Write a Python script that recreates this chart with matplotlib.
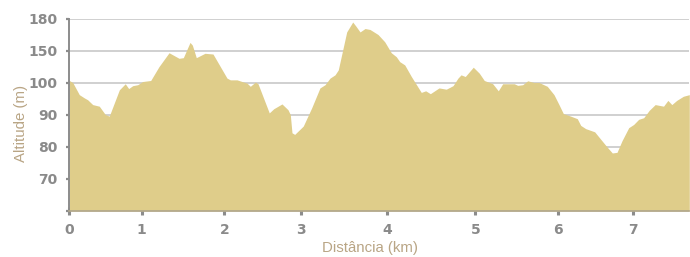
import numpy as np
import matplotlib
matplotlib.use("Agg")
import matplotlib.pyplot as plt
from matplotlib import font_manager

# ---- data ----
distance_km = [0.0, 0.047, 0.138, 0.207, 0.254, 0.323, 0.414, 0.497, 0.552, 0.691,
               0.773, 0.820, 0.876, 0.945, 1.012, 1.109, 1.209, 1.331, 1.452, 1.504,
               1.585, 1.613, 1.661, 1.766, 1.863, 2.035, 2.078, 2.165, 2.230, 2.295,
               2.338, 2.403, 2.438, 2.584, 2.642, 2.749, 2.827, 2.857, 2.879, 2.914,
               2.983, 3.023, 3.121, 3.217, 3.276, 3.334, 3.392, 3.430, 3.528, 3.598,
               3.636, 3.683, 3.741, 3.799, 3.892, 3.970, 4.045, 4.102, 4.141, 4.198,
               4.273, 4.386, 4.436, 4.489, 4.588, 4.670, 4.747, 4.803, 4.838, 4.886,
               4.977, 5.048, 5.108, 5.210, 5.277, 5.330, 5.470, 5.511, 5.571, 5.631,
               5.707, 5.767, 5.867, 5.948, 6.009, 6.067, 6.165, 6.253, 6.299, 6.365,
               6.485, 6.565, 6.653, 6.720, 6.783, 6.849, 6.939, 7.005, 7.072, 7.139,
               7.213, 7.293, 7.405, 7.463, 7.516, 7.581, 7.671, 7.750]
altitude_m = [103.6, 100.5, 96.3, 95.3, 94.7, 93.2, 92.7, 90.1, 89.6, 97.8,
              99.7, 98.2, 99.1, 99.4, 102.0, 103.6, 125.2, 146.9, 138.2, 139.2,
              157.8, 155.3, 139.2, 146.0, 144.9, 107.3, 104.6, 104.6, 102.0, 99.9,
              98.9, 101.1, 99.7, 90.6, 91.9, 93.4, 91.6, 90.1, 84.4, 83.9,
              85.5, 86.5, 92.2, 98.4, 99.4, 107.3, 112.4, 120.1, 167.6, 176.9,
              172.9, 167.6, 170.8, 169.9, 165.2, 158.4, 146.9, 140.7, 133.0, 127.9,
              109.8, 97.0, 97.5, 96.6, 98.4, 98.0, 99.1, 107.3, 112.4, 109.8,
              124.3, 115.0, 103.6, 99.7, 97.5, 99.7, 99.7, 99.2, 99.4, 103.1,
              100.5, 100.5, 98.9, 96.3, 93.2, 90.4, 89.6, 88.8, 86.7, 85.7,
              84.7, 82.4, 79.9, 78.1, 78.3, 81.9, 86.0, 87.0, 88.6, 89.1,
              91.4, 93.2, 92.7, 94.5, 93.2, 94.5, 95.8, 96.3]

x_ticks = [0, 1, 2, 3, 4, 5, 6, 7]
x_tick_labels = ["0", "1", "2", "3", "4", "5", "6", "7"]
y_ticks = [60, 70, 80, 90, 100, 150, 180]
y_tick_labels = ["", "70", "80", "90", "100", "150", "180"]

# ---- uneven axis scales (piecewise linear) ----
_xk = [-100, 0, 1, 2, 3, 4, 5, 6, 7, 7.75, 100]
_xp = [-7240, 0, 72.4, 155.0, 232.0, 318.0, 406.0, 489.0, 564.0, 620.0, 7000.0]
_yk = [-1000, 60, 70, 80, 90, 100, 150, 180, 1000]
_yp = [-106.0, 0, 1, 2, 3, 4, 5, 6, 6 + 820 / 30]

def xf(v): return np.interp(v, _xk, _xp)
def xi(p): return np.interp(p, _xp, _xk)
def yf(v): return np.interp(v, _yk, _yp)
def yi(p): return np.interp(p, _yp, _yk)

# ---- fonts ----
names = {f.name for f in font_manager.fontManager.ttflist}
tick_font = "Liberation Sans Narrow" if "Liberation Sans Narrow" in names else "DejaVu Sans"
label_font = "Liberation Sans" if "Liberation Sans" in names else "DejaVu Sans"

FILL = "#DFCD8A"
GRID = "#c4c4c4"
AXIS = "#8c8c8c"
TICKTXT = "#8a8a8a"
LABEL = "#b9a585"

fig = plt.figure(figsize=(6.9, 2.57), dpi=100)
ax = fig.add_axes([69.3 / 690, 1 - 211 / 257, 620 / 690, (211 - 18.7) / 257])
ax.set_xscale("function", functions=(xf, xi))
ax.set_yscale("function", functions=(yf, yi))

ax.fill_between(distance_km, altitude_m, 60, color=FILL, lw=0, zorder=2)
ax.set_xlim(0, 7.75)
ax.set_ylim(60, 180)

ax.set_yticks(y_ticks)
ax.set_yticklabels(y_tick_labels)
ax.set_xticks(x_ticks)
ax.set_xticklabels(x_tick_labels)
ax.minorticks_off()

ax.yaxis.grid(True, color=GRID, lw=1.1)
ax.set_axisbelow(True)

for s in ["top", "right"]:
    ax.spines[s].set_visible(False)
ax.spines["left"].set_color(AXIS)
ax.spines["left"].set_linewidth(1.4)
ax.spines["left"].set_zorder(3)
ax.spines["bottom"].set_color("#b0a68c")
ax.spines["bottom"].set_linewidth(1.2)
ax.spines["bottom"].set_zorder(3)

ax.tick_params(axis="y", direction="out", length=2.4, width=1.6, color=AXIS,
               pad=6.0, labelsize=10, labelcolor=TICKTXT)
ax.tick_params(axis="x", direction="inout", length=5.8, width=2.2, color=AXIS,
               pad=5.5, labelsize=10, labelcolor=TICKTXT)
for lab in ax.get_xticklabels() + ax.get_yticklabels():
    lab.set_fontfamily(tick_font)
    lab.set_fontweight("bold")

ax.set_xlabel("Distância (km)", fontsize=10.8, color=LABEL, family=label_font)
ax.set_ylabel("Altitude (m)", fontsize=10.8, color=LABEL, family=label_font)
ax.xaxis.set_label_coords((369.5 - 69.3) / 620, (211 - 248) / 192.3)
ax.yaxis.set_label_coords((21 - 69.3) / 620, (211 - 123) / 192.3)
ax.xaxis.label.set_va("center")
ax.yaxis.label.set_va("center")

fig.savefig("out.png", dpi=100, facecolor="white")
